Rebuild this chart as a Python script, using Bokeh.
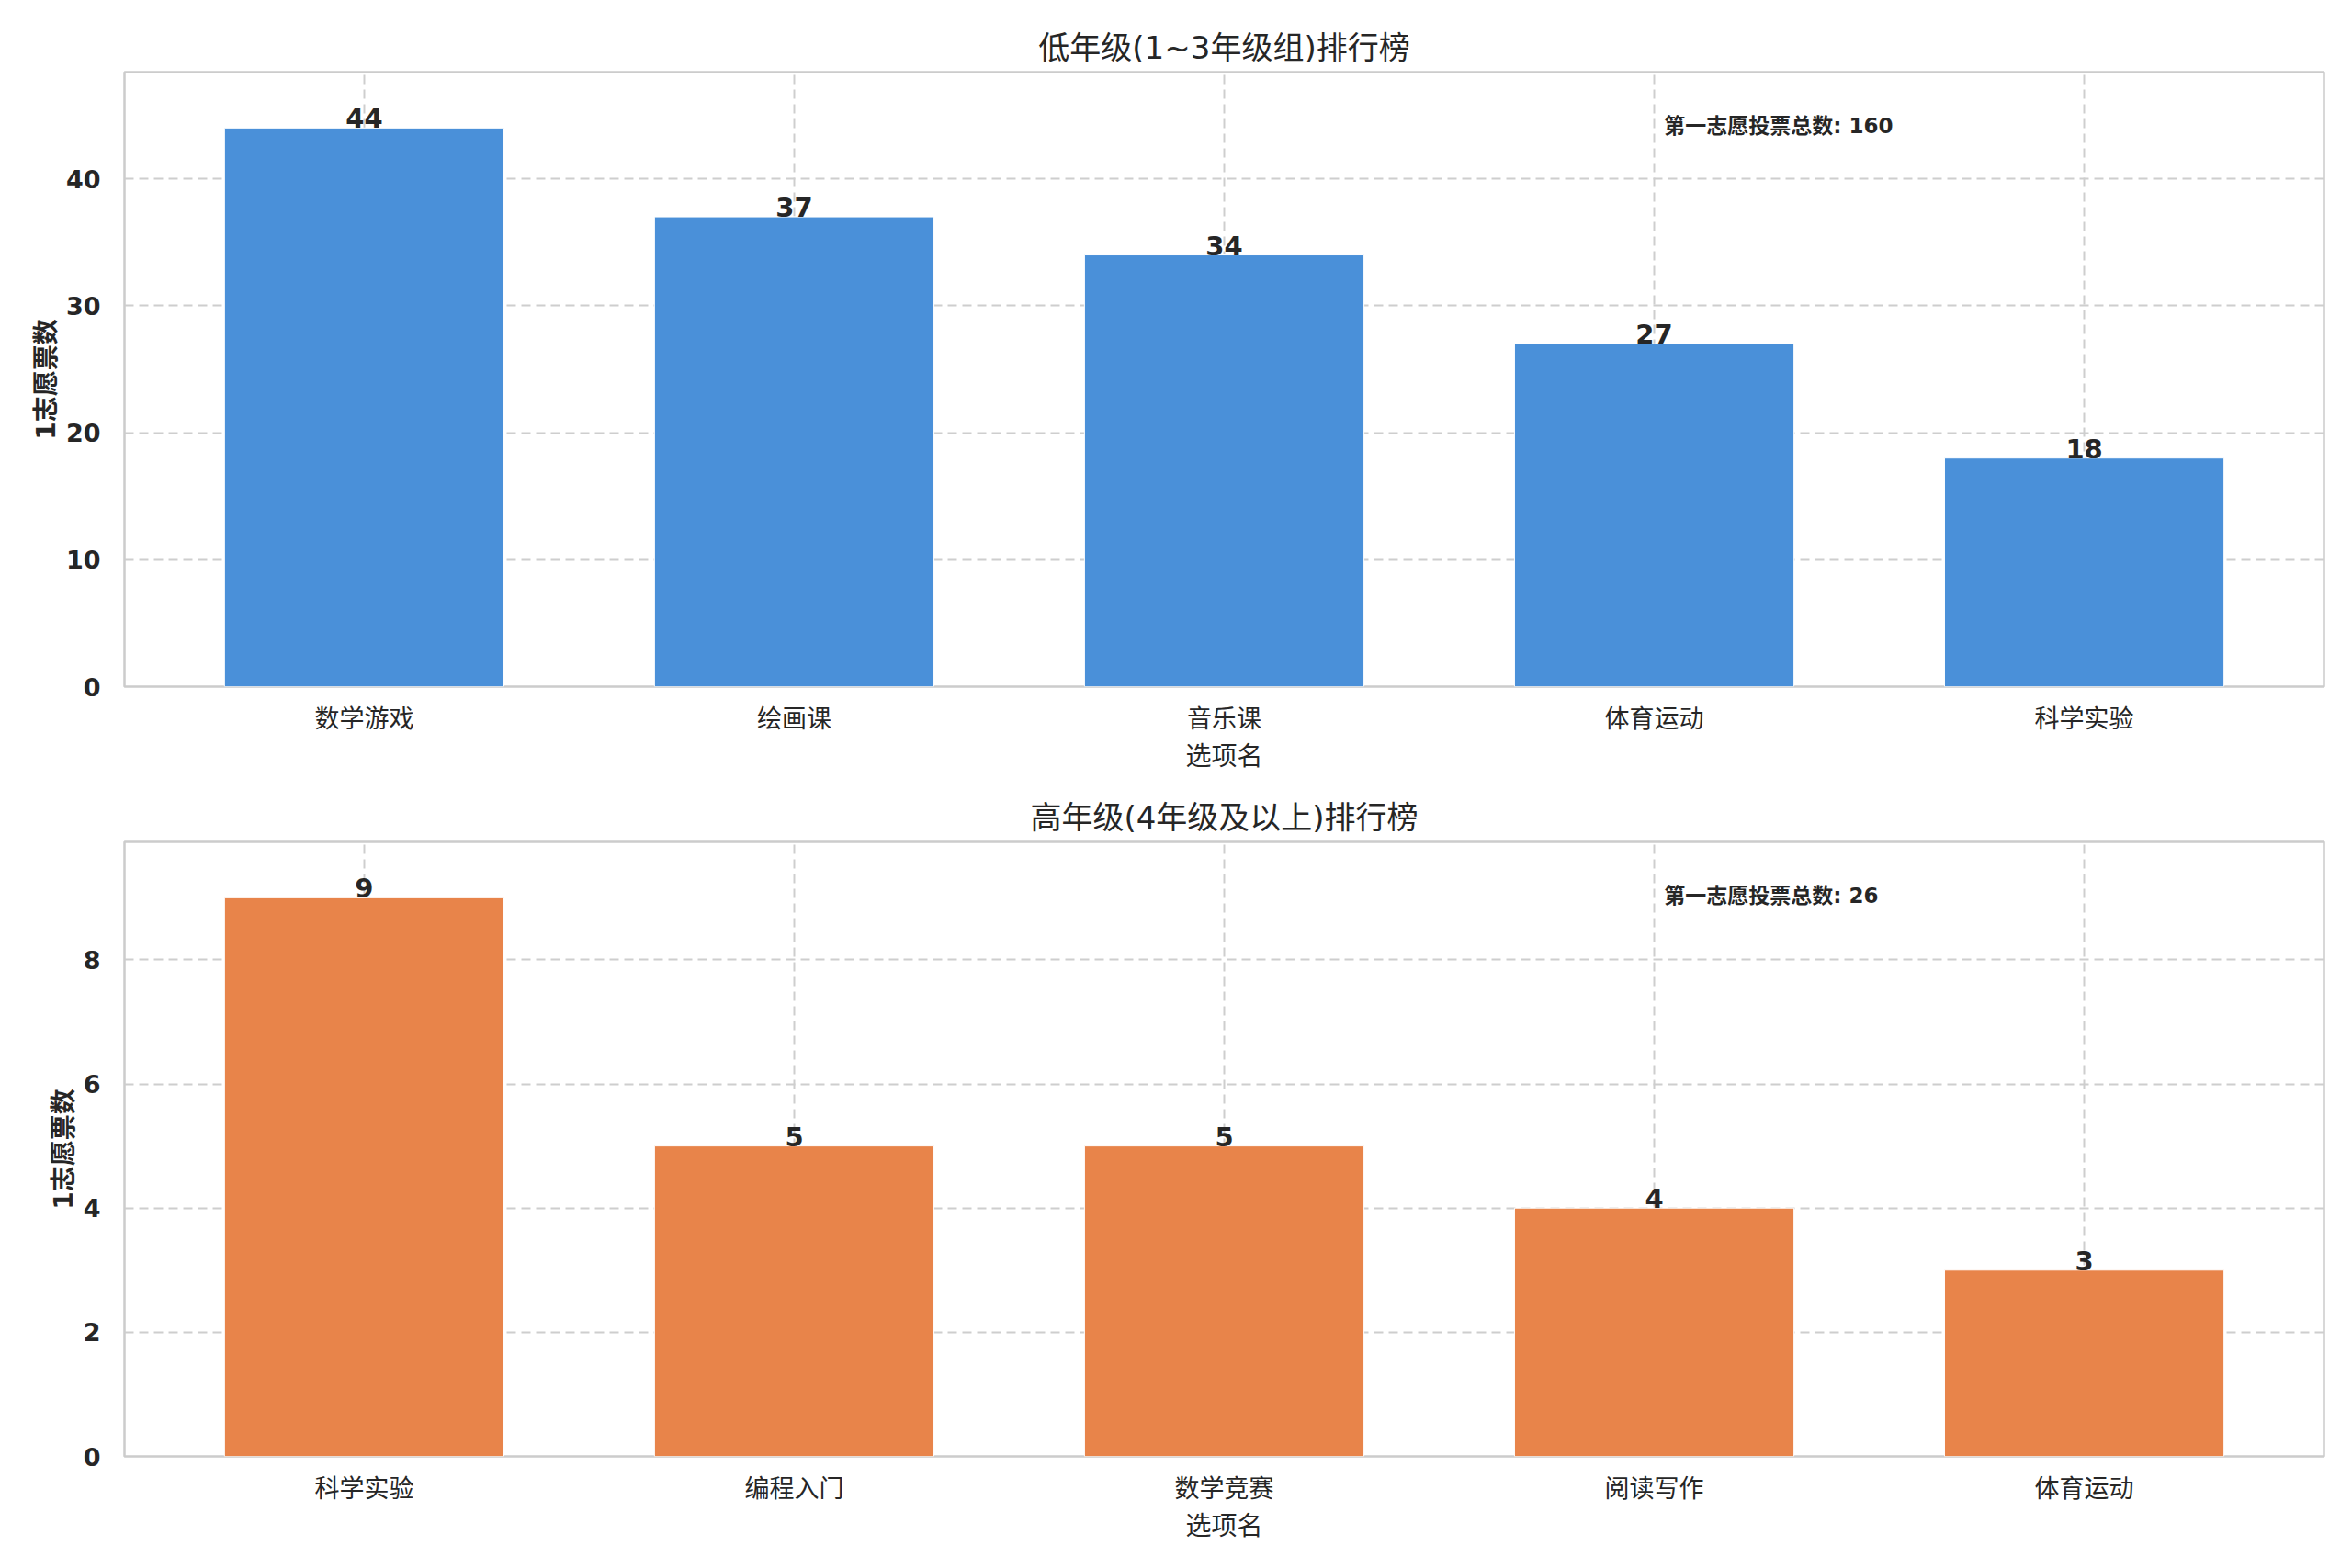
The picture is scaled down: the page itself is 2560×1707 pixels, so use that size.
from bokeh.plotting import figure
from bokeh.layouts import column
from bokeh.models import Range1d, FactorRange, SingleIntervalTicker, Label
from bokeh.core.properties import value
from bokeh.embed import file_html
from bokeh.resources import INLINE

FONT = "DejaVu Sans, Noto Sans CJK SC"
TEXT_COLOR = "#262626"
GRID_COLOR = "#cecece"

# data
low_title = "低年级(1~3年级组)排行榜"
low_cats = ["数学游戏", "绘画课", "音乐课", "体育运动", "科学实验"]
low_votes = [44, 37, 34, 27, 18]

high_title = "高年级(4年级及以上)排行榜"
high_cats = ["科学实验", "编程入门", "数学竞赛", "阅读写作", "体育运动"]
high_votes = [9, 5, 5, 4, 3]

x_label = "选项名"
y_label = "1志愿票数"
total_label = "第一志愿投票总数"


def make_panel(title, cats, votes, color, tick_step, top_border):
    ymax = max(votes) * 1.1
    p = figure(width=2552, height=768 + top_border,
               x_range=FactorRange(factors=cats, range_padding=0.023),
               y_range=Range1d(0, ymax),
               output_backend="svg", toolbar_location=None,
               min_border_left=135, min_border_right=23,
               min_border_top=top_border, min_border_bottom=99)
    p.background_fill_color = "white"
    p.border_fill_color = "white"
    p.outline_line_color = "#cccccc"
    p.outline_line_width = 2.5

    p.title.text = title
    p.title.align = "center"
    p.title.text_font = FONT
    p.title.text_font_size = "34px"
    p.title.text_font_style = "normal"
    p.title.text_color = TEXT_COLOR
    p.title.standoff = 13

    p.vbar(x=cats, top=votes, width=0.65, fill_color=color,
           line_color="white", line_width=1)
    p.text(x=cats, y=votes, text=[str(v) for v in votes],
           text_align="center", text_baseline="bottom",
           text_font=value(FONT), text_font_size="29px", text_font_style="bold",
           text_color=TEXT_COLOR)

    total = Label(x=3.523, y=ymax * 0.912, text="%s: %d" % (total_label, sum(votes)),
                  text_font=FONT, text_font_size="23px", text_font_style="bold",
                  text_color=TEXT_COLOR, text_align="left", text_baseline="middle")
    p.add_layout(total)

    p.yaxis.ticker = SingleIntervalTicker(interval=tick_step)
    for ax in (p.xaxis, p.yaxis):
        ax.axis_line_color = None
        ax.major_tick_line_color = None
        ax.minor_tick_line_color = None
        ax.major_label_text_font = FONT
        ax.major_label_text_color = TEXT_COLOR
        ax.major_label_text_font_size = "27px"
        ax.axis_label_text_font = FONT
        ax.axis_label_text_color = TEXT_COLOR
        ax.axis_label_text_font_size = "28px"
    p.yaxis.major_label_text_font_style = "bold"
    p.yaxis.major_label_standoff = 20
    p.yaxis.axis_label = y_label
    p.yaxis.axis_label_text_font_style = "bold"
    p.yaxis.axis_label_standoff = 2
    p.xaxis.major_label_standoff = 13
    p.xaxis.axis_label = x_label
    p.xaxis.axis_label_text_font_style = "normal"
    p.xaxis.axis_label_standoff = 6

    p.xgrid.grid_line_color = GRID_COLOR
    p.ygrid.grid_line_color = GRID_COLOR
    p.xgrid.grid_line_width = 2
    p.ygrid.grid_line_width = 2
    p.xgrid.grid_line_dash = "10 6"
    p.ygrid.grid_line_dash = "10 6"
    return p


p1 = make_panel(low_title, low_cats, low_votes, "#4a90d9", 10, 78)
p2 = make_panel(high_title, high_cats, high_votes, "#e8844a", 2, 70)

page = column(p1, p2, spacing=0)
open("out.html", "w").write(file_html(page, INLINE))
